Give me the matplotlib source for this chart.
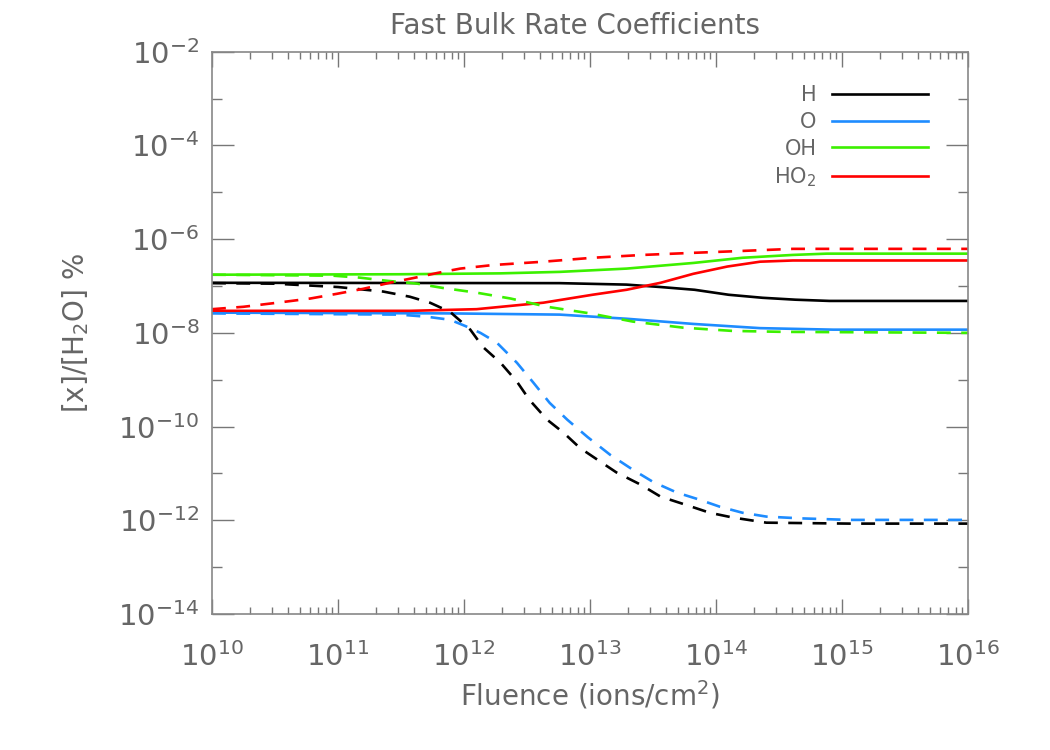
import numpy as np
import matplotlib
matplotlib.use("Agg")
import matplotlib.pyplot as plt

# fluence as log10(ions/cm^2); abundance as [x]/[H2O] %
h_solid_x = [10.0, 12.76, 13.29, 13.56, 13.83, 14.10, 14.37, 14.63, 14.90, 16.0]
h_solid_y = [1.17e-7, 1.15e-7, 1.07e-7, 9.5e-8, 8.3e-8, 6.5e-8, 5.6e-8, 5.1e-8, 4.8e-8, 4.8e-8]

h_dash_x = [10.0, 10.5, 11.0, 11.36, 11.57, 11.73, 11.89, 12.05, 12.15, 12.29, 12.42, 12.52,
            12.66, 12.79, 12.92, 13.08, 13.21, 13.40, 13.56, 13.77, 13.95, 14.13, 14.40,
            15.06, 16.0]
h_dash_y = [1.15e-7, 1.12e-7, 9.5e-8, 7.6e-8, 5.9e-8, 4.4e-8, 2.8e-8, 1.17e-8, 5.0e-9,
            2.3e-9, 9.1e-10, 3.7e-10, 1.4e-10, 7.4e-11, 3.5e-11, 1.8e-11, 1.05e-11, 5.8e-12,
            3.2e-12, 2.1e-12, 1.45e-12, 1.15e-12, 8.9e-13, 8.5e-13, 8.5e-13]

o_solid_x = [10.0, 11.89, 12.76, 13.29, 13.82, 14.35, 14.93, 16.0]
o_solid_y = [2.7e-8, 2.6e-8, 2.45e-8, 2.0e-8, 1.55e-8, 1.26e-8, 1.17e-8, 1.17e-8]

o_dash_x = [10.0, 11.49, 11.71, 11.89, 12.01, 12.13, 12.26, 12.42, 12.55, 12.68, 12.82,
            12.98, 13.16, 13.34, 13.50, 13.69, 13.87, 14.03, 14.21, 14.40, 14.67, 15.06, 16.0]
o_dash_y = [2.6e-8, 2.45e-8, 2.2e-8, 1.9e-8, 1.4e-8, 1.0e-8, 6.2e-9, 2.3e-9, 8.7e-10,
            3.2e-10, 1.4e-10, 6.0e-11, 2.5e-11, 1.2e-11, 6.6e-12, 3.9e-12, 2.75e-12,
            1.95e-12, 1.45e-12, 1.2e-12, 1.1e-12, 1.02e-12, 1.02e-12]

oh_solid_x = [10.0, 11.49, 12.29, 12.76, 13.29, 13.82, 14.21, 14.61, 14.88, 16.0]
oh_solid_y = [1.74e-7, 1.78e-7, 1.86e-7, 2.0e-7, 2.35e-7, 3.1e-7, 4.0e-7, 4.6e-7, 4.9e-7, 4.9e-7]

oh_dash_x = [10.0, 10.96, 11.17, 11.39, 11.63, 11.83, 12.10, 12.37, 12.66, 13.00, 13.34,
             13.74, 14.13, 14.53, 16.0]
oh_dash_y = [1.74e-7, 1.66e-7, 1.51e-7, 1.29e-7, 1.12e-7, 9.1e-8, 7.2e-8, 5.4e-8, 3.6e-8,
             2.6e-8, 1.74e-8, 1.29e-8, 1.1e-8, 1.05e-8, 1.0e-8]

ho2_solid_x = [10.0, 11.57, 12.10, 12.63, 13.02, 13.29, 13.56, 13.82, 14.09, 14.35, 14.61, 16.0]
ho2_solid_y = [2.95e-8, 2.95e-8, 3.2e-8, 4.4e-8, 6.5e-8, 8.3e-8, 1.17e-7, 1.82e-7, 2.6e-7,
               3.3e-7, 3.5e-7, 3.5e-7]

ho2_dash_x = [10.0, 10.25, 10.52, 10.78, 10.99, 11.20, 11.41, 11.60, 11.79, 11.97, 12.23,
              12.63, 13.02, 13.42, 13.82, 14.21, 14.61, 16.0]
ho2_dash_y = [3.2e-8, 3.6e-8, 4.4e-8, 5.4e-8, 6.8e-8, 8.7e-8, 1.17e-7, 1.48e-7, 1.9e-7,
              2.35e-7, 2.8e-7, 3.3e-7, 4.0e-7, 4.6e-7, 5.1e-7, 5.6e-7, 6.2e-7, 6.2e-7]

species = ["H", "O", "OH", "HO$_2$"]
colors = ["black", "#1e8cff", "#3cf000", "#ff0000"]
solid = [(h_solid_x, h_solid_y), (o_solid_x, o_solid_y),
         (oh_solid_x, oh_solid_y), (ho2_solid_x, ho2_solid_y)]
dashed = [(h_dash_x, h_dash_y), (o_dash_x, o_dash_y),
          (oh_dash_x, oh_dash_y), (ho2_dash_x, ho2_dash_y)]

txt = "#666666"
plt.rcParams["font.family"] = "DejaVu Sans"
plt.rcParams["mathtext.default"] = "regular"
plt.rcParams["lines.scale_dashes"] = False

fig = plt.figure(figsize=(10.5, 7.5), dpi=100)
ax = fig.add_axes([0.2019, 0.1813, 0.72, 0.7498])

for (x, y), c, lab in zip(solid, colors, species):
    ax.plot(10 ** np.array(x), y, color=c, lw=1.9, label=lab)
for (x, y), c in zip(dashed, colors):
    ax.plot(10 ** np.array(x), y, color=c, lw=1.9, dashes=(10, 7.5))

ax.set_xscale("log")
ax.set_yscale("log")
ax.set_xlim(1e10, 1e16)
ax.set_ylim(1e-14, 1e-2)
ax.set_yticks([10.0 ** k for k in range(-14, -1, 2)])
ax.set_yticks([10.0 ** k for k in range(-13, -2, 2)], minor=True)
ax.set_yticklabels([], minor=True)

for s in ax.spines.values():
    s.set_color("#888888")
    s.set_linewidth(1.2)
ax.tick_params(which="both", direction="in", top=True, right=True, colors="#777777",
               labelcolor=txt, labelsize=21, width=1.0)
ax.tick_params(axis="x", which="major", length=11, pad=20)
ax.tick_params(axis="x", which="minor", length=5)
ax.tick_params(axis="y", which="major", length=16, pad=9)
ax.tick_params(axis="y", which="minor", length=7)

ax.set_xlabel("Fluence (ions/cm$^2$)", fontsize=20, color=txt, labelpad=5)
ax.set_ylabel("[x]/[H$_2$O] %", fontsize=20, color=txt, labelpad=20)
fig.text(0.548, 0.966, "Fast Bulk Rate Coefficients", fontsize=20, color=txt,
         ha="center", va="center")

ax.legend(loc="upper right", bbox_to_anchor=(0.947, 0.94), frameon=False,
          markerfirst=False, fontsize=15, handlelength=4.6, handletextpad=0.75,
          labelspacing=0.32, borderpad=0, borderaxespad=0, labelcolor=txt)

fig.savefig("out.png", dpi=100)
